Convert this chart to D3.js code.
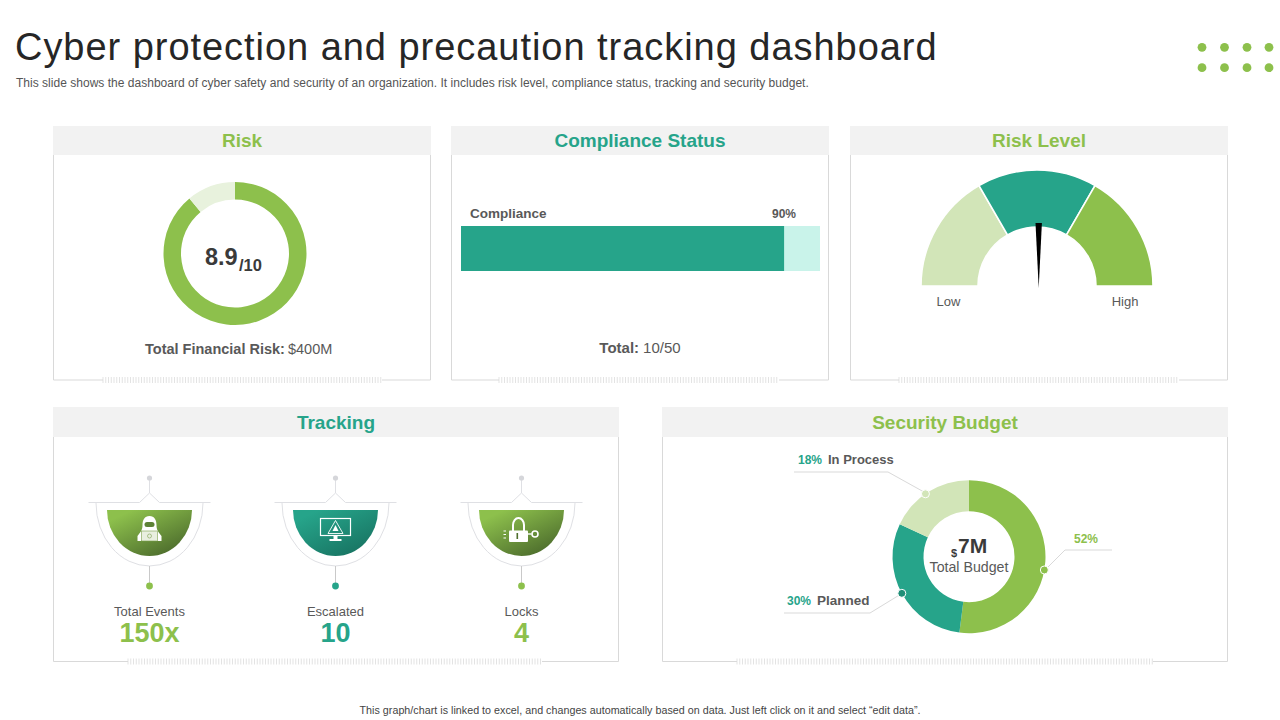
<!DOCTYPE html>
<html><head><meta charset="utf-8">
<script src="https://cdn.jsdelivr.net/npm/d3@7"></script>
<style>html,body{margin:0;padding:0;background:#fff;overflow:hidden}svg{display:block}text{font-family:"Liberation Sans",Arial,sans-serif}</style>
</head><body><svg id="c" width="1280" height="720"></svg>
<script>
// ---- data ----
const titleText = "Cyber protection and precaution tracking dashboard";
const subtitleText = "This slide shows the dashboard of cyber safety and security of an organization. It includes risk level, compliance status, tracking and security budget.";
const footerText = "This graph/chart is linked to excel, and changes automatically based on data. Just left click on it and select \u201cedit data\u201d.";
const panelTitles = ["Risk","Compliance Status","Risk Level","Tracking","Security Budget"];
const riskScore = 8.9;
const riskMax = 10;
const complianceCategory = "Compliance";
const compliancePercent = 90;
const gaugeLabels = ["Low","High"];
const gaugeSegments = [1,1,1];
const gaugeNeedle = 50;
const trackingLabels = ["Total Events","Escalated","Locks"];
const trackingValues = ["150x","10","4"];
const budgetCategories = ["Completed","Planned","In Process"];
const budgetValues = [52,30,18];

// ---- style and layout ----
const GREEN="#8dc04c",TEAL="#26a48a",LIGHT="#d2e5b8",PALE="#e8f2dd",MINT="#c9f3ea",GREY="#595959",LINE="#d9d9d9";
const svg=d3.select("#c");
const defs=svg.append("defs");
function grad(id,a,b){const g=defs.append("linearGradient").attr("id",id).attr("x1","0%").attr("y1","0%").attr("x2","85%").attr("y2","100%");
  g.append("stop").attr("offset","15%").attr("stop-color",a);g.append("stop").attr("offset","100%").attr("stop-color",b);}
grad("gGreen","#8dc04c","#47652a");grad("gTeal","#26a48a","#17705f");
function txt(x,y,s,size,fill,opt={}){const t=svg.append("text").attr("x",x).attr("y",y).attr("font-size",size).attr("fill",fill)
  .attr("font-weight",opt.bold?"bold":"normal").attr("text-anchor",opt.anchor||"start").text(s);
  if(opt.ls!=null)t.attr("letter-spacing",opt.ls);return t;}

// header
txt(15,60,titleText,38,"#262626",{ls:0.96});
txt(16,87,subtitleText,12,"#555",{ls:0.02});
txt(640,714,footerText,10.7,"#444",{anchor:"middle",ls:0.03});
const dotX=[1202,1224.5,1247,1269],dotY=[47.3,67.7];
dotY.forEach(y=>dotX.forEach(x=>svg.append("circle").attr("cx",x).attr("cy",y).attr("r",4.4).attr("fill",GREEN)));

// panels
const panels=[
 {x0:53,x1:431,y0:126,yh:155,y1:380,h0:103,h1:382,c:GREEN,ty:147},
 {x0:451,x1:829,y0:126,yh:155,y1:380,h0:499,h1:779,c:TEAL,ty:147},
 {x0:850,x1:1228,y0:126,yh:155,y1:380,h0:899,h1:1179,c:GREEN,ty:147},
 {x0:53,x1:619,y0:407,yh:437,y1:661.5,h0:128,h1:542,c:TEAL,ty:429},
 {x0:662,x1:1228,y0:407,yh:437,y1:661.5,h0:737,h1:1153,c:GREEN,ty:429}];
panels.forEach((p,i)=>{
  svg.append("path").attr("fill","none").attr("stroke",LINE).attr("stroke-width",1)
    .attr("d",`M${p.x0+.5},${p.yh}V${p.y1}H${p.h0}M${p.h1},${p.y1}H${p.x1-.5}V${p.yh}`);
  svg.append("rect").attr("x",p.x0).attr("y",p.y0).attr("width",p.x1-p.x0).attr("height",p.yh-p.y0).attr("fill","#f2f2f2");
  txt((p.x0+p.x1)/2,p.ty,panelTitles[i],19,p.c,{bold:true,anchor:"middle"});
  svg.append("g").selectAll("line").data(d3.range(p.h0,p.h1,2.75)).join("line")
    .attr("x1",d=>d).attr("x2",d=>d).attr("y1",p.y1-3).attr("y2",p.y1+3).attr("stroke","#dcdcdc").attr("stroke-width",.8);
});

// Risk donut
const riskPie=d3.pie().sort(null)([riskScore,riskMax-riskScore]);
const riskArc=d3.arc().innerRadius(54).outerRadius(71.5);
svg.append("g").attr("transform","translate(235,253.5)").selectAll("path").data(riskPie).join("path")
  .attr("d",riskArc).attr("fill",(d,i)=>[GREEN,PALE][i]);
txt(205,265,String(riskScore),23.5,"#3a3a3a",{bold:true});
txt(239,271,"/"+riskMax,16.5,"#3a3a3a",{bold:true});
const fr=txt(145,354,"",14.5,GREY);
fr.append("tspan").attr("font-weight","bold").text("Total Financial Risk:");
fr.append("tspan").attr("dx",3).text("$400M");

// Compliance bar
const xC=d3.scaleLinear().domain([0,100]).range([461,820]);
svg.append("rect").attr("x",xC(0)).attr("y",226).attr("width",xC(100)-xC(0)).attr("height",45).attr("fill",MINT);
svg.append("rect").attr("x",xC(0)).attr("y",226).attr("width",xC(compliancePercent)-xC(0)).attr("height",45).attr("fill",TEAL);
txt(470,218,complianceCategory,13.5,GREY,{bold:true});
txt(772,218,compliancePercent+"%",12,GREY,{bold:true});
const tt=txt(640,353,"",15,GREY,{anchor:"middle"});
tt.append("tspan").attr("font-weight","bold").text("Total:");
tt.append("tspan").attr("dx",4).text("10/50");

// Gauge
const gaugePie=d3.pie().sort(null).startAngle(-Math.PI/2).endAngle(Math.PI/2)(gaugeSegments);
const gaugeArc=d3.arc().innerRadius(59).outerRadius(116);
svg.append("g").attr("transform","translate(1037,286)").selectAll("path").data(gaugePie).join("path")
  .attr("d",gaugeArc).attr("fill",(d,i)=>[LIGHT,TEAL,GREEN][i]).attr("stroke","#fff").attr("stroke-width",1.6);
const needleAngle=d3.scaleLinear().domain([0,100]).range([-90,90]);
svg.append("path").attr("transform",`translate(1038.7,288) rotate(${needleAngle(gaugeNeedle)})`)
  .attr("d","M0,0L-3.2,-65H3.2Z").attr("fill","#000");
txt(948.5,306,gaugeLabels[0],13,GREY,{anchor:"middle"});
txt(1125,306,gaugeLabels[1],13,GREY,{anchor:"middle"});

// Tracking
const trackX=d3.scalePoint().domain(trackingLabels).range([149.5,521.5]);
const trackColors=[GREEN,TEAL,GREEN],trackFill=["url(#gGreen)","url(#gTeal)","url(#gGreen)"];
trackingLabels.forEach((lab,i)=>{
  const g=svg.append("g").attr("transform",`translate(${trackX(lab)},0)`);
  const S="#dfe0e4";
  g.append("path").attr("fill","none").attr("stroke",S).attr("stroke-width",1)
    .attr("d","M-61,502.5H-10L0,493L10,502.5H61M0,493V478");
  g.append("circle").attr("cy",478).attr("r",2.6).attr("fill","#d5d6da");
  g.append("path").attr("fill","none").attr("stroke",S).attr("stroke-width",1)
    .attr("d","M-53.5,503A53.5,63 0 0 0 53.5,503");
  g.append("path").attr("fill",trackFill[i]).attr("d","M-42.5,510H42.5A42.5,46 0 0 1 -42.5,510Z");
  g.append("path").attr("fill","none").attr("stroke","#c9c9c9").attr("d","M0,566V586");
  g.append("circle").attr("cy",586).attr("r",3.4).attr("fill",trackColors[i]);
  txt(trackX(lab),616,lab,13,GREY,{anchor:"middle"});
  txt(trackX(lab),641.5,trackingValues[i],27,trackColors[i],{bold:true,anchor:"middle"});
  const ic=g.append("g").attr("fill","#fff");
  if(i===0){
    ic.append("path").attr("d","M0,516C-5,516 -7,520 -7,525C-7,529 -8,531 -12,536L-12,541H12L12,536C8,531 7,529 7,525C7,520 5,516 0,516Z");
    ic.append("rect").attr("x",-5).attr("y",522).attr("width",10).attr("height",5).attr("rx",2.5).attr("fill","#5d8236");
    ic.append("rect").attr("x",-8).attr("y",531).attr("width",16).attr("height",10).attr("fill","#e9efe0").attr("stroke","#7a9f4a").attr("stroke-width",.6);
    ic.append("circle").attr("cy",536).attr("r",2).attr("fill","none").attr("stroke","#8dab63").attr("stroke-width",.7);
  } else if(i===1){
    ic.append("rect").attr("x",-15).attr("y",518.5).attr("width",30).attr("height",17).attr("fill","none").attr("stroke","#fff").attr("stroke-width",1.2);
    ic.append("path").attr("d","M0,520.5L-7.5,533.5H7.5Z").attr("fill","none").attr("stroke","#fff").attr("stroke-width",.9);
    ic.append("path").attr("d","M0,525L-3,531H3Z");
    ic.append("rect").attr("x",-2).attr("y",536).attr("width",4).attr("height",3);
    ic.append("rect").attr("x",-6).attr("y",539).attr("width",12).attr("height",2);
  } else {
    ic.append("path").attr("fill","none").attr("stroke","#fff").attr("stroke-width",2).attr("d","M-8.5,531V525A5.5,7 0 0 1 2.5,525V531");
    ic.append("rect").attr("x",-12.5).attr("y",530.5).attr("width",19).attr("height",11.5).attr("rx",1);
    ic.append("rect").attr("x",-5).attr("y",533).attr("width",1.6).attr("height",6).attr("fill","#4e6f2c");
    ic.append("path").attr("fill","none").attr("stroke","#fff").attr("stroke-width",1.4).attr("d","M6,534H10");
    ic.append("circle").attr("cx",13.5).attr("cy",534).attr("r",3).attr("fill","none").attr("stroke","#fff").attr("stroke-width",1.6);
    ic.append("path").attr("fill","none").attr("stroke","#fff").attr("stroke-width",1.2).attr("d","M-18,531H-15.5M-18,534.5H-15.5M-18,538H-15.5");
  }
});

// Security budget
const bPie=d3.pie().sort(null)(budgetValues);
const bArc=d3.arc().innerRadius(45.5).outerRadius(76.5);
const bc=[969,556.7];
const bColors=[GREEN,TEAL,LIGHT],dotColors=[GREEN,"#1f8f78",LIGHT];
svg.append("g").attr("transform",`translate(${bc})`).selectAll("path").data(bPie).join("path")
  .attr("d",bArc).attr("fill",(d,i)=>bColors[i]);
const leaders=["M1045,570L1065,550H1112","M901,594L870,613H784","M924,492L888,472H794"];
const dotAngles=[100,241.4,325.3];
leaders.forEach(d=>svg.append("path").attr("d",d).attr("fill","none").attr("stroke","#d9d9d9"));
dotAngles.forEach((a,i)=>{const t=a*Math.PI/180;
  svg.append("circle").attr("cx",bc[0]+76.5*Math.sin(t)).attr("cy",bc[1]-76.5*Math.cos(t)).attr("r",4)
    .attr("fill",dotColors[i]).attr("stroke","#fff").attr("stroke-width",1);});
txt(1074,543,budgetValues[0]+"%",12,GREEN,{bold:true});
txt(787,605,budgetValues[1]+"%",12,TEAL,{bold:true});
txt(817,605,budgetCategories[1],13.5,GREY,{bold:true});
txt(798,464,budgetValues[2]+"%",12,TEAL,{bold:true});
txt(828,464,budgetCategories[2],13,GREY,{bold:true});
txt(951,557,"$",11,"#3a3a3a",{bold:true});
txt(958,552.5,"7M",21,"#3a3a3a",{bold:true});
txt(969,572,"Total Budget",14.2,GREY,{anchor:"middle"});
</script></body></html>
